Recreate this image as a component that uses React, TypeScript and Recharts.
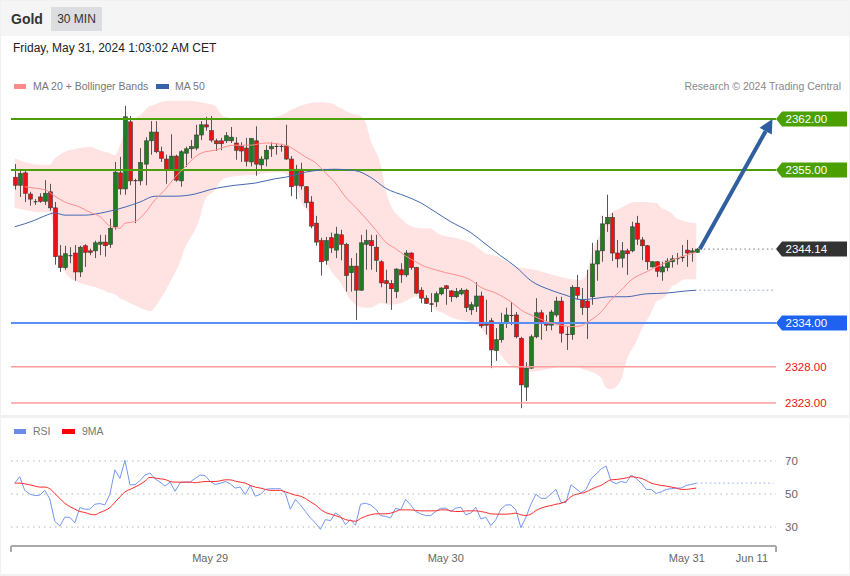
import React from 'react';
import { ComposedChart, Bar, Line, Area, XAxis, YAxis, ReferenceLine } from 'recharts';

const FONT = "'Liberation Sans', Arial, sans-serif";

// [open, high, low, close] per 30-min candle
const ohlc: [number, number, number, number][] = [
  [2354.0, 2355.8, 2352.3, 2352.9], [2352.9, 2355.0, 2351.3, 2354.5], [2354.6, 2355.0, 2350.6, 2351.8],
  [2351.7, 2352.0, 2350.1, 2351.0], [2350.7, 2351.0, 2350.2, 2350.6], [2351.3, 2351.8, 2350.5, 2350.7],
  [2350.7, 2353.6, 2350.2, 2351.8], [2352.0, 2353.1, 2349.4, 2349.8], [2349.8, 2350.6, 2342.0, 2343.1],
  [2343.2, 2344.7, 2341.0, 2341.6], [2341.6, 2344.6, 2341.3, 2343.5], [2343.3, 2344.4, 2342.2, 2343.2],
  [2343.6, 2344.7, 2339.8, 2341.0], [2341.0, 2344.6, 2340.3, 2344.4], [2344.6, 2344.8, 2341.7, 2343.7],
  [2343.9, 2344.2, 2343.3, 2343.7], [2343.9, 2345.3, 2342.9, 2345.0], [2344.8, 2346.1, 2343.3, 2345.1],
  [2345.1, 2346.1, 2343.1, 2344.6], [2344.8, 2348.3, 2344.3, 2347.0], [2347.2, 2356.1, 2346.8, 2354.7],
  [2354.6, 2356.8, 2351.6, 2352.4], [2352.4, 2363.8, 2351.6, 2362.3], [2361.6, 2362.4, 2352.9, 2353.5],
  [2353.6, 2353.8, 2347.7, 2353.5], [2353.5, 2358.0, 2352.9, 2356.0], [2355.8, 2359.5, 2352.9, 2359.0],
  [2359.0, 2361.7, 2357.1, 2360.2], [2360.2, 2361.7, 2357.3, 2357.5], [2357.5, 2358.2, 2356.1, 2356.6],
  [2356.5, 2357.1, 2353.1, 2355.0], [2355.0, 2359.9, 2354.9, 2356.9], [2356.9, 2357.1, 2353.4, 2353.6],
  [2353.5, 2357.7, 2352.7, 2357.5], [2357.3, 2358.2, 2355.4, 2357.9], [2357.9, 2359.1, 2356.6, 2358.2],
  [2358.0, 2361.2, 2357.7, 2359.8], [2359.8, 2361.7, 2359.1, 2361.2], [2361.2, 2362.3, 2360.4, 2360.9],
  [2360.4, 2362.4, 2358.8, 2359.1], [2359.0, 2359.3, 2357.6, 2358.6], [2359.0, 2359.4, 2357.7, 2358.6],
  [2359.0, 2360.2, 2358.7, 2359.7], [2359.0, 2360.9, 2358.7, 2359.5], [2358.7, 2359.5, 2356.4, 2357.7],
  [2358.2, 2358.8, 2356.1, 2357.6], [2358.0, 2359.4, 2355.5, 2356.2], [2356.1, 2359.4, 2355.5, 2359.3],
  [2359.0, 2361.0, 2354.2, 2355.8], [2355.7, 2356.9, 2355.0, 2356.5], [2356.5, 2358.4, 2355.5, 2357.7],
  [2357.9, 2358.8, 2356.8, 2358.2], [2358.3, 2358.7, 2357.1, 2358.2], [2358.2, 2358.6, 2357.5, 2358.3],
  [2358.3, 2361.2, 2356.4, 2356.5], [2356.5, 2356.9, 2351.4, 2352.7], [2352.9, 2355.7, 2351.0, 2355.1],
  [2355.1, 2356.0, 2352.3, 2352.8], [2352.7, 2352.8, 2349.8, 2350.5], [2350.6, 2351.4, 2347.0, 2347.3],
  [2347.7, 2348.7, 2344.6, 2345.1], [2345.3, 2345.7, 2340.5, 2342.4], [2342.6, 2345.8, 2342.0, 2345.3],
  [2345.7, 2346.4, 2343.6, 2344.3], [2344.0, 2347.2, 2342.9, 2346.2], [2346.1, 2346.8, 2342.6, 2344.8],
  [2344.8, 2345.0, 2338.3, 2340.5], [2340.9, 2342.9, 2338.3, 2341.8], [2341.8, 2343.6, 2334.4, 2338.5],
  [2338.5, 2346.1, 2338.4, 2345.0], [2344.8, 2346.8, 2341.3, 2345.3], [2345.3, 2346.1, 2341.3, 2344.6],
  [2344.4, 2346.1, 2341.0, 2342.6], [2342.4, 2342.6, 2338.9, 2339.5], [2339.8, 2341.3, 2336.7, 2339.4],
  [2339.4, 2339.9, 2335.8, 2338.7], [2338.3, 2341.5, 2337.4, 2341.4], [2341.3, 2342.2, 2339.5, 2340.6],
  [2340.6, 2344.0, 2340.3, 2343.6], [2343.6, 2343.7, 2341.3, 2341.6], [2341.6, 2341.7, 2338.0, 2338.1],
  [2338.5, 2338.9, 2336.7, 2337.4], [2337.4, 2337.8, 2336.6, 2336.7], [2336.7, 2338.1, 2335.5, 2336.5],
  [2336.9, 2338.3, 2336.2, 2338.0], [2338.0, 2338.9, 2337.8, 2338.8], [2339.1, 2339.2, 2336.5, 2338.7],
  [2338.4, 2338.5, 2336.9, 2337.6], [2337.6, 2338.8, 2337.4, 2338.3], [2338.0, 2338.8, 2337.8, 2338.5],
  [2338.5, 2338.7, 2335.5, 2336.1], [2335.8, 2336.9, 2335.1, 2336.5], [2336.3, 2339.6, 2335.5, 2337.7],
  [2337.7, 2338.3, 2333.3, 2333.6], [2334.1, 2337.2, 2332.4, 2333.7], [2334.3, 2334.7, 2327.8, 2330.3],
  [2330.2, 2333.3, 2328.8, 2331.7], [2331.7, 2335.4, 2331.3, 2334.0], [2334.0, 2336.1, 2333.3, 2335.1],
  [2335.1, 2336.9, 2333.7, 2335.0], [2335.1, 2335.5, 2331.9, 2332.1], [2331.9, 2332.1, 2322.3, 2325.5],
  [2325.2, 2328.6, 2323.3, 2327.8], [2327.8, 2332.4, 2327.7, 2332.1], [2332.1, 2337.4, 2331.9, 2335.4],
  [2335.4, 2335.8, 2331.7, 2333.9], [2333.9, 2335.1, 2332.9, 2333.7], [2333.7, 2335.8, 2333.0, 2335.5],
  [2335.1, 2337.6, 2334.8, 2337.0], [2337.0, 2337.6, 2331.3, 2332.6], [2332.5, 2333.5, 2330.3, 2332.4],
  [2332.4, 2339.2, 2331.7, 2338.9], [2338.9, 2340.6, 2337.2, 2337.8], [2337.2, 2338.8, 2335.1, 2336.1],
  [2337.0, 2341.3, 2331.8, 2336.1], [2337.6, 2345.0, 2336.5, 2342.1], [2342.1, 2345.4, 2339.8, 2343.9],
  [2343.9, 2348.7, 2342.4, 2347.6], [2347.6, 2351.6, 2346.5, 2348.5], [2348.5, 2349.1, 2342.5, 2343.6],
  [2343.6, 2345.4, 2341.6, 2342.8], [2342.9, 2345.1, 2341.6, 2343.9], [2343.9, 2344.2, 2340.6, 2343.5],
  [2343.9, 2347.9, 2343.7, 2347.2], [2347.7, 2348.7, 2344.7, 2345.5], [2345.4, 2345.8, 2342.6, 2344.6],
  [2344.6, 2344.7, 2341.3, 2342.4], [2341.7, 2342.5, 2341.6, 2342.4], [2342.4, 2342.5, 2340.3, 2341.1],
  [2341.0, 2342.4, 2339.8, 2341.7], [2341.6, 2342.9, 2341.1, 2342.5], [2342.4, 2343.3, 2341.6, 2342.8],
  [2342.8, 2343.6, 2342.0, 2342.9], [2342.9, 2344.7, 2342.4, 2343.1], [2344.0, 2345.4, 2341.7, 2343.6],
  [2343.7, 2344.3, 2342.4, 2343.9], [2343.7, 2344.3, 2343.6, 2344.14],
];

// [candle index, upper band, lower band]
const bands: [number, number, number][] = [
  [0, 2356.6, 2349.8], [2, 2356.1, 2349.5], [5, 2355.7, 2349.2], [7, 2355.7, 2349.2], [8, 2356.6, 2345.4],
  [9, 2357.1, 2342.4], [10, 2357.5, 2341.0], [11, 2357.7, 2340.2], [13, 2358.0, 2339.5], [15, 2358.2, 2339.1],
  [17, 2357.7, 2338.7], [19, 2357.3, 2338.1], [20, 2357.0, 2337.9], [21, 2358.4, 2337.4], [22, 2360.5, 2337.1],
  [23, 2361.6, 2336.7], [24, 2362.1, 2336.4], [25, 2362.5, 2336.1], [26, 2363.2, 2335.8], [27, 2363.8, 2335.6],
  [28, 2364.0, 2336.2], [29, 2364.3, 2337.2], [31, 2364.5, 2339.6], [33, 2364.5, 2342.4], [34, 2364.5, 2344.4],
  [35, 2364.5, 2345.6], [36, 2364.4, 2346.8], [37, 2364.3, 2348.5], [38, 2364.2, 2350.9], [40, 2363.8, 2352.3],
  [41, 2362.8, 2353.4], [42, 2362.3, 2353.9], [45, 2362.0, 2354.2], [48, 2361.9, 2354.3], [50, 2362.0, 2354.6],
  [53, 2362.5, 2354.7], [54, 2362.8, 2354.5], [55, 2363.2, 2354.0], [56, 2363.5, 2353.2], [57, 2363.8, 2350.9],
  [59, 2364.2, 2348.9], [60, 2364.3, 2347.7], [61, 2364.3, 2344.4], [63, 2364.2, 2341.3], [65, 2363.5, 2339.5],
  [67, 2362.8, 2337.2], [69, 2362.4, 2336.2], [70, 2361.5, 2336.1], [71, 2359.1, 2336.1], [73, 2355.7, 2336.7],
  [74, 2352.3, 2336.6], [75, 2350.2, 2336.5], [77, 2348.4, 2336.7], [79, 2347.3, 2337.4], [81, 2347.0, 2337.7],
  [83, 2347.0, 2336.5], [84, 2346.5, 2335.8], [86, 2345.9, 2335.2], [87, 2345.8, 2334.8], [89, 2345.5, 2334.4],
  [91, 2345.0, 2334.1], [93, 2344.0, 2333.3], [94, 2343.5, 2332.4], [96, 2343.2, 2330.6], [98, 2342.5, 2328.7],
  [100, 2341.7, 2327.8], [103, 2341.4, 2327.3], [106, 2340.9, 2327.6], [109, 2340.3, 2328.0], [111, 2340.0, 2328.0],
  [113, 2339.9, 2327.8], [114, 2340.5, 2327.5], [115, 2343.3, 2327.3], [117, 2346.5, 2326.5], [118, 2348.4, 2325.1],
  [119, 2349.1, 2324.9], [121, 2349.8, 2326.2], [122, 2350.2, 2328.7], [124, 2350.6, 2331.4], [125, 2350.6, 2333.0],
  [126, 2350.6, 2334.2], [127, 2350.5, 2335.4], [128, 2350.5, 2336.9], [129, 2349.8, 2337.3], [130, 2349.5, 2337.8],
  [131, 2349.1, 2338.9], [132, 2348.4, 2339.3], [133, 2348.1, 2339.8], [134, 2347.9, 2340.0], [136, 2347.7, 2340.0],
];

// [candle index, MA 20]
const ma20: [number, number][] = [
  [2, 2352.7], [4, 2352.5], [6, 2352.3], [8, 2351.4], [10, 2350.6], [13, 2349.9], [15, 2349.2], [17, 2348.6],
  [19, 2347.3], [21, 2347.0], [22, 2347.7], [24, 2347.9], [26, 2349.1], [28, 2350.9], [30, 2352.3], [32, 2354.0],
  [34, 2355.4], [36, 2356.8], [38, 2357.5], [40, 2357.7], [42, 2358.2], [44, 2358.4], [47, 2358.4], [50, 2358.7],
  [54, 2358.4], [56, 2357.7], [58, 2356.8], [60, 2356.0], [62, 2354.6], [64, 2353.2], [66, 2351.3], [68, 2349.9],
  [70, 2348.4], [72, 2346.8], [74, 2345.1], [76, 2344.2], [78, 2343.2], [80, 2342.4], [82, 2341.7], [84, 2341.3],
  [86, 2340.9], [88, 2340.6], [91, 2339.9], [93, 2338.9], [96, 2338.1], [99, 2336.9], [101, 2335.8], [104, 2334.8],
  [107, 2334.0], [109, 2333.7], [111, 2333.5], [113, 2333.6], [114, 2334.0], [117, 2335.5], [119, 2337.2],
  [121, 2338.5], [123, 2339.9], [126, 2341.0], [129, 2342.0], [131, 2342.6], [134, 2343.3], [136, 2343.7],
];

// [candle index, MA 50]
const ma50: [number, number][] = [
  [0, 2347.2], [4, 2348.1], [6, 2348.7], [8, 2349.1], [10, 2348.8], [14, 2348.8], [18, 2349.2], [22, 2349.9],
  [25, 2350.6], [28, 2351.4], [32, 2351.4], [36, 2351.7], [39, 2352.3], [44, 2352.9], [48, 2353.2], [52, 2353.8],
  [54, 2354.0], [58, 2354.7], [61, 2355.0], [64, 2355.1], [68, 2354.9], [71, 2354.0], [74, 2352.5], [78, 2351.4],
  [81, 2350.5], [84, 2349.2], [87, 2347.9], [91, 2346.4], [94, 2344.8], [97, 2343.2], [100, 2341.7], [103, 2339.8],
  [107, 2338.5], [110, 2337.8], [113, 2337.2], [115, 2337.3], [119, 2337.6], [122, 2337.6], [126, 2338.0],
  [130, 2338.1], [134, 2338.4], [136, 2338.5],
];

const rsi = [
  56.6, 60.5, 52.2, 50, 49, 49.3, 52.2, 47, 33.5, 30.6,
  35.9, 35.9, 32.5, 41.8, 40.8, 40.8, 43.8, 44.2, 43.4, 50,
  64.7, 59.5, 70.4, 55.6, 55.6, 58.2, 61.5, 62.7, 59.2, 57.2,
  54.8, 57.2, 51.7, 56.8, 57.2, 57.2, 59.5, 61.5, 61.1, 57.6,
  55.8, 56.4, 57.6, 56.2, 53.6, 54.2, 49.7, 55.2, 48.7, 49.7,
  52.8, 53.2, 53.2, 53.2, 50.3, 40.8, 46.7, 43.4, 39.4, 35.5,
  32.5, 28.6, 34.5, 33.9, 38.5, 36.5, 31.5, 34.5, 31.1, 43.8,
  44.4, 43.4, 41, 36.9, 36.5, 35.5, 41.4, 40.4, 46.7, 43.4,
  39.4, 38, 36.9, 36.9, 39.4, 41.4, 41.4, 39.4, 41.4, 42,
  37.4, 38.4, 42, 34.9, 35.9, 30.9, 34.5, 40.8, 43.4, 43.4,
  40.4, 29.6, 35.9, 43.8, 49.9, 47.4, 47.4, 50, 52.8, 44.9,
  44.9, 55.6, 53.2, 50.8, 52.8, 59.2, 62.1, 65.1, 67, 57.6,
  56.2, 57.6, 56.8, 61.5, 59.5, 56.6, 52.8, 52.8, 50.3, 51.3,
  52.8, 53.2, 53.6, 53.6, 55.2, 55.8, 56.6,
];

const rsiMa9 = [
  56.6, 56.6, 56.2, 55.6, 54.8, 54.2, 54.2, 53.2, 50.3, 47.3,
  44.4, 42.4, 40.8, 39.4, 38.8, 37.8, 37.4, 38.8, 40, 41.8,
  45, 48.3, 51.3, 52.8, 54.2, 55.8, 57.8, 60.1, 59.7, 59.2,
  58.8, 57.6, 57.2, 57.2, 57.2, 57.2, 56.8, 57.2, 57.6, 57.6,
  57.6, 58, 58.6, 58.6, 57.8, 57.2, 56.6, 55.2, 54.2, 53.6,
  52.8, 52.2, 52.2, 52.2, 51.3, 50.3, 49.3, 48.7, 47.3, 45.3,
  43.4, 40.8, 38.8, 37.8, 36.9, 35.9, 34.5, 33.9, 33.5, 35.1,
  36.5, 37.4, 38, 38, 38, 38.4, 39.4, 40.4, 40.4, 40.4,
  40, 39.8, 39.8, 39.8, 39.8, 40.4, 40.4, 39.8, 39.4, 39.4,
  39.8, 39.8, 39.8, 39.4, 38.8, 38, 37.8, 37.8, 37.8, 38,
  38.4, 37.4, 37, 37.8, 40, 41.4, 42.4, 43, 43.8, 44.4,
  45.7, 48.4, 49.8, 50.4, 51.3, 52.8, 54.2, 55.2, 57.2, 58.6,
  58.8, 59.2, 59.7, 60.5, 60.1, 59.5, 58.2, 56.6, 55.8, 55.2,
  54.8, 54.2, 53.6, 52.8, 52.8, 53.2, 53.6,
];

const resistanceLevels = [2362, 2355];
const pivotLevel = 2334;
const supportLevels = [2328, 2323];
const lastPrice = 2344.14;
const targetPrice = 2362;
const rsiLevels = [70, 50, 30];
const dateTickIdx = [39, 86, 134.1, 147.1];
const dateTickLabels = ['May 29', 'May 30', 'May 31', 'Jun 11'];

const X_MIN = -0.74;
const X_MAX = 151.9;
const LAST = ohlc.length - 1;

const candleData = ohlc.map(([o, h, l, c], i) => ({ i, o, h, l, c }));
const bandData = bands.map(([i, up, lo]) => ({ i, up, lo }));
const ma20Data = ma20.map(([i, v]) => ({ i, v }));
const ma50Data = ma50.map(([i, v]) => ({ i, v }));
const rsiData = rsi.map((v, i) => ({ i, rsi: v, ma: rsiMa9[i] }));

const Candle = (props: any) => {
  const { x, y, width, height, payload } = props;
  if (!payload) return null;
  const { o, h, l, c } = payload;
  const top = Math.min(y, y + height);
  const bot = Math.max(y, y + height);
  const span = h - l || 1;
  const py = (p: number) => top + ((h - p) / span) * (bot - top);
  const cx = Math.round(x + width / 2) + 0.5;
  const bTop = py(Math.max(o, c));
  const bBot = py(Math.min(o, c));
  const doji = Math.abs(o - c) < 0.2;
  const fill = doji ? '#333' : c > o ? '#1f7d1f' : '#f01010';
  return (
    <g>
      <line x1={cx} x2={cx} y1={top} y2={bot} stroke="#555" strokeWidth={1} />
      <rect x={cx - 2} y={bTop} width={4} height={Math.max(1, bBot - bTop)} fill={fill}
        stroke={doji ? 'none' : '#3a3a3a'} strokeWidth={0.6} />
    </g>
  );
};

const tag = (text: string, bg: string | null, color: string) => (props: any) => {
  const vb = props.viewBox || {};
  const xr = vb.x + vb.width;
  const y = vb.y;
  if (!bg) {
    return <text x={xr + 9} y={y + 4} fill={color} fontSize={11.5} fontFamily={FONT}>{text}</text>;
  }
  return (
    <g>
      <polygon points={`${xr},${y} ${xr + 6},${y - 7.5} ${xr + 71},${y - 7.5} ${xr + 71},${y + 7.5} ${xr + 6},${y + 7.5}`} fill={bg} />
      <text x={xr + 9.5} y={y + 4} fill="#fff" fontSize={11.5} fontFamily={FONT}>{text}</text>
    </g>
  );
};

const ArrowShape = (p: any) => {
  const { x1, y1, x2, y2 } = p;
  const ang = Math.atan2(y2 - y1, x2 - x1);
  const L = 14;
  const W = 7;
  const bx = x2 - L * Math.cos(ang);
  const by = y2 - L * Math.sin(ang);
  const nx = -Math.sin(ang);
  const ny = Math.cos(ang);
  return (
    <g>
      <line x1={x1} y1={y1} x2={bx} y2={by} stroke="#2f5f9e" strokeWidth={4} />
      <polygon points={`${x2},${y2} ${bx + nx * W},${by + ny * W} ${bx - nx * W},${by - ny * W}`} fill="#2f5f9e" />
    </g>
  );
};

const DateTick = (p: any) => {
  const v = p.payload?.value;
  const k = dateTickIdx.indexOf(v);
  if (k < 0) {
    return <line x1={p.x} x2={p.x} y1={p.y} y2={p.y + 6} stroke="#aaa" strokeWidth={2} />;
  }
  return (
    <text x={p.x} y={p.y + 16} textAnchor="middle" fontSize={11} fill="#666" fontFamily={FONT}>
      {dateTickLabels[k]}
    </text>
  );
};

const legendText: React.CSSProperties = { position: 'absolute', fontSize: 10.5, color: '#777', lineHeight: '12px' };

export default function App() {
  return (
    <div style={{ position: 'absolute', left: 0, top: 0, width: 850, height: 576, background: '#f1f1f1', fontFamily: FONT, overflow: 'hidden' }}>
      {/* header */}
      <div style={{ position: 'absolute', left: 1, top: 1, width: 848, height: 35, background: '#f5f5f5' }} />
      <div style={{ position: 'absolute', left: 11, top: 10, fontSize: 14, fontWeight: 'bold', color: '#333', lineHeight: '18px' }}>Gold</div>
      <div style={{ position: 'absolute', left: 51, top: 7, width: 51, height: 24, background: '#dcdde1', color: '#333', fontSize: 12, lineHeight: '24px', textAlign: 'center' }}>30 MIN</div>
      {/* main panel */}
      <div style={{ position: 'absolute', left: 1, top: 36, width: 848, height: 379, background: '#fff' }} />
      <div style={{ position: 'absolute', left: 13, top: 41, fontSize: 12, color: '#222', lineHeight: '14px' }}>Friday, May 31, 2024 1:03:02 AM CET</div>
      <div style={{ position: 'absolute', left: 14, top: 84, width: 12, height: 5, background: '#ff8a8a' }} />
      <div style={{ ...legendText, left: 33, top: 80 }}>MA 20 + Bollinger Bands</div>
      <div style={{ position: 'absolute', left: 156, top: 84, width: 13, height: 5, background: '#3762aa' }} />
      <div style={{ ...legendText, left: 175, top: 80 }}>MA 50</div>
      <div style={{ ...legendText, right: 9, top: 80, color: '#888' }}>Research © 2024 Trading Central</div>
      {/* rsi panel */}
      <div style={{ position: 'absolute', left: 1, top: 418, width: 848, height: 156, background: '#fff' }} />
      <div style={{ position: 'absolute', left: 14, top: 429, width: 12, height: 5, background: '#6b8be6' }} />
      <div style={{ ...legendText, left: 33, top: 425 }}>RSI</div>
      <div style={{ position: 'absolute', left: 62, top: 429, width: 13, height: 5, background: '#ff0000' }} />
      <div style={{ ...legendText, left: 82, top: 425 }}>9MA</div>

      <div style={{ position: 'absolute', left: 0, top: 0 }}>
        <ComposedChart width={850} height={416} data={candleData}
          margin={{ top: 97.1, right: 74, bottom: 5.6, left: 11 }}>
          <XAxis dataKey="i" type="number" domain={[X_MIN, X_MAX]} hide allowDataOverflow />
          <YAxis type="number" domain={[2322, 2365]} hide allowDataOverflow />
          <Area data={bandData} dataKey={(d: any) => [d.lo, d.up]} type="monotone" stroke="none"
            fill="#ffe3e3" fillOpacity={1} isAnimationActive={false} />
          {resistanceLevels.map((v) => (
            <ReferenceLine key={v} y={v} stroke="#4c9e0a" strokeWidth={2}
              label={tag(v.toFixed(2), '#4ba000', '#fff')} />
          ))}
          <ReferenceLine y={pivotLevel} stroke="#5b8ef3" strokeWidth={2}
            label={tag(pivotLevel.toFixed(2), '#1d62f0', '#fff')} />
          {supportLevels.map((v) => (
            <ReferenceLine key={v} y={v} stroke="#ff9c9c" strokeWidth={1.5}
              label={tag(v.toFixed(2), null, '#ee1111')} />
          ))}
          <ReferenceLine segment={[{ x: LAST + 0.6, y: lastPrice }, { x: X_MAX, y: lastPrice }]}
            stroke="#777" strokeDasharray="1.5 3" strokeWidth={1}
            label={tag(lastPrice.toFixed(2), '#333333', '#fff')} />
          <ReferenceLine segment={[{ x: LAST + 0.6, y: ma50[ma50.length - 1][1] }, { x: X_MAX - 0.3, y: ma50[ma50.length - 1][1] }]}
            stroke="#8a9cc4" strokeDasharray="1.5 3" strokeWidth={1} />
          <Line data={ma50Data} dataKey="v" type="monotone" stroke="#4368b0" strokeWidth={1} dot={false} isAnimationActive={false} />
          <Line data={ma20Data} dataKey="v" type="monotone" stroke="#ff8c8c" strokeWidth={1} dot={false} isAnimationActive={false} />
          <Bar dataKey={(d: any) => [d.l, d.h]} shape={Candle} barSize={4} isAnimationActive={false} />
          <ReferenceLine segment={[{ x: LAST + 0.7, y: lastPrice }, { x: 151.2, y: targetPrice }]}
            shape={ArrowShape} />
        </ComposedChart>
      </div>

      <div style={{ position: 'absolute', left: 0, top: 418 }}>
        <ComposedChart width={850} height={155} data={rsiData}
          margin={{ top: 26.5, right: 74, bottom: 7, left: 11 }}>
          <XAxis dataKey="i" type="number" domain={[X_MIN, X_MAX]} allowDataOverflow
            ticks={[X_MIN, ...dateTickIdx, X_MAX]} interval={0} tick={DateTick}
            tickLine={false} tickSize={0} tickMargin={0} height={20}
            axisLine={{ stroke: '#aaa', strokeWidth: 2 }} />
          <YAxis type="number" domain={[18.5, 80]} hide allowDataOverflow />
          {rsiLevels.map((v) => (
            <ReferenceLine key={v} y={v} stroke="#b5b5b5" strokeDasharray="1.5 4" strokeWidth={1}
              label={{ value: String(v), position: 'right', offset: 9, fill: '#666', fontSize: 11.5, fontFamily: FONT }} />
          ))}
          <ReferenceLine segment={[{ x: LAST, y: rsi[LAST] }, { x: 151.4, y: rsi[LAST] }]}
            stroke="#8fa8ee" strokeDasharray="1.5 3" strokeWidth={1} />
          <Line dataKey="rsi" type="linear" stroke="#7396ee" strokeWidth={1} dot={false} isAnimationActive={false} />
          <Line dataKey="ma" type="monotone" stroke="#ff2a2a" strokeWidth={1} dot={false} isAnimationActive={false} />
        </ComposedChart>
      </div>
    </div>
  );
}
